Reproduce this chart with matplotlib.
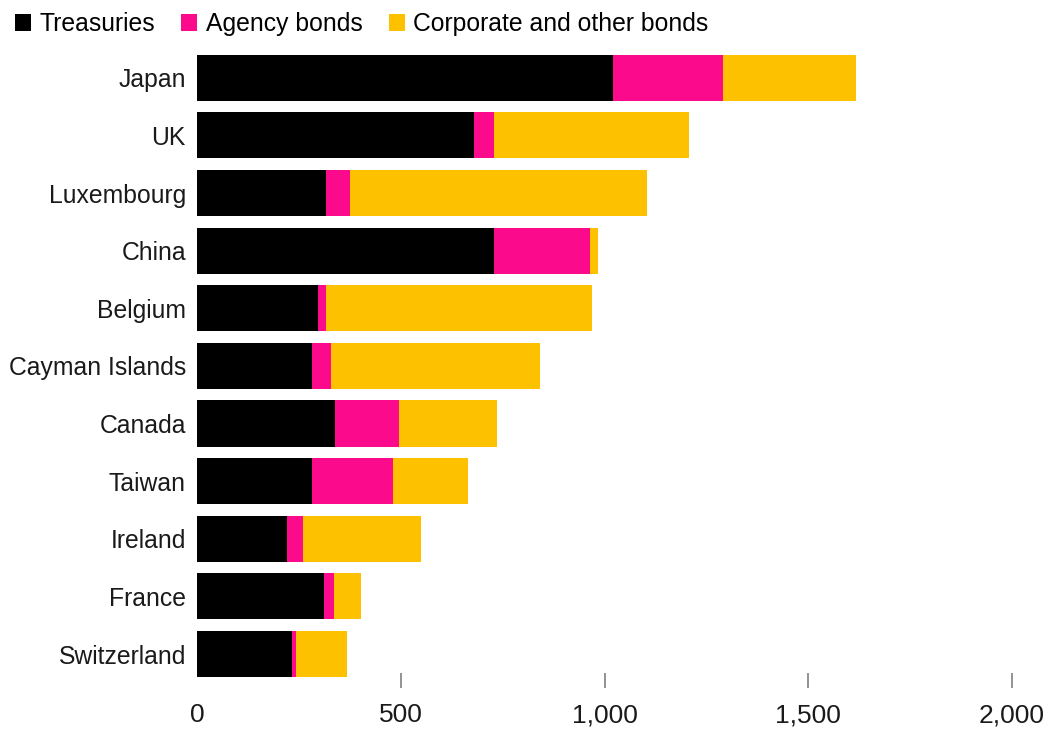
import numpy as np
import matplotlib.pyplot as plt
from matplotlib.ticker import FuncFormatter

# holdings by country, stacked by bond type
countries = ['Japan', 'UK', 'Luxembourg', 'China', 'Belgium', 'Cayman Islands',
             'Canada', 'Taiwan', 'Ireland', 'France', 'Switzerland']
treasuries = [1021, 680, 317, 730, 298, 283, 339, 283, 222, 311, 232]
agency = [270, 50, 59, 234, 19, 47, 157, 199, 38, 26, 10]
corporate = [326, 477, 729, 21, 652, 512, 241, 183, 290, 66, 125]

series_names = ['Treasuries', 'Agency bonds', 'Corporate and other bonds']
colors = ['#000000', '#fb0a8c', '#fdc100']
x_ticks = [0, 500, 1000, 1500, 2000]

plt.rcParams['font.family'] = ['Liberation Sans', 'DejaVu Sans']

fig = plt.figure(figsize=(10.44, 7.34), dpi=100)
ax = fig.add_axes([197 / 1044, 46 / 734, 815 / 1044, 639 / 734])

y = np.arange(len(countries))
left = np.zeros(len(countries))
for vals, name, col in zip([treasuries, agency, corporate], series_names, colors):
    ax.barh(y, vals, left=left, height=0.8, color=col, label=name, zorder=2)
    left = left + np.array(vals)

ax.set_ylim(10.59, -0.5)
ax.set_xlim(0, 2000)
ax.set_yticks(y)
ax.set_yticklabels(countries, fontsize=17.8, color='#1a1a1a')
ax.tick_params(axis='y', length=0, pad=8)

ax.set_xticks(x_ticks)
ax.xaxis.set_major_formatter(FuncFormatter(lambda v, p: f'{int(v):,}'))
ax.tick_params(axis='x', direction='in', length=10.8, width=1.2, color='#808080',
               labelsize=19, labelcolor='#1a1a1a', pad=11)
ax.xaxis.get_major_ticks()[0].tick1line.set_visible(False)

for s in ax.spines.values():
    s.set_visible(False)

fig.legend(loc='upper left', bbox_to_anchor=(15 / 1044, 1 - 12 / 734), ncol=3,
           frameon=False, fontsize=17.8, borderpad=0, borderaxespad=0,
           handlelength=0.65, handleheight=0.65, handletextpad=0.35,
           columnspacing=1.05)

fig.savefig('out.png', dpi=100)
